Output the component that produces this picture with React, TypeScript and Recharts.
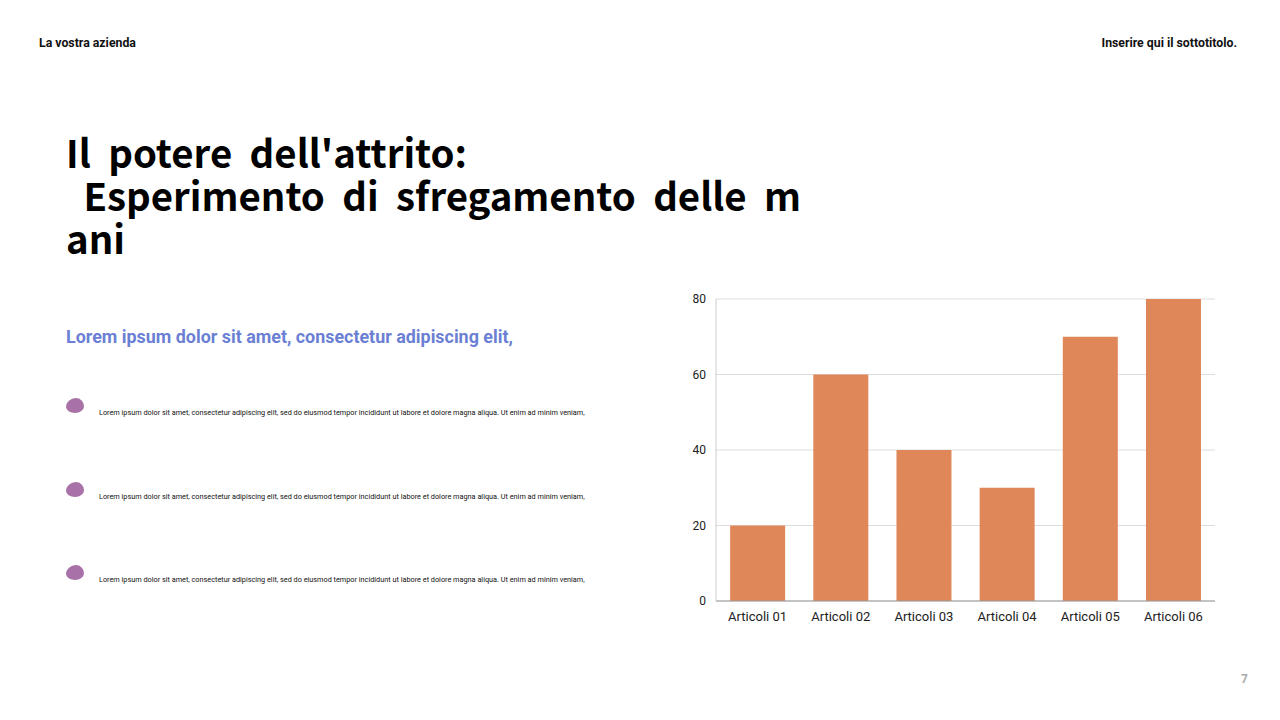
import React from "react";
import { BarChart, Bar, XAxis, YAxis, CartesianGrid } from "recharts";

const categories = ["Articoli 01", "Articoli 02", "Articoli 03", "Articoli 04", "Articoli 05", "Articoli 06"];
const values = [20, 60, 40, 30, 70, 80];
const yTicks = [0, 20, 40, 60, 80];

const titleLines = ["Il  potere  dell'attrito:", "  Esperimento  di  sfregamento  delle  m", "ani"];
const bulletText =
  "Lorem ipsum dolor sit amet, consectetur adipiscing elit, sed do eiusmod tempor incididunt ut labore et dolore magna aliqua. Ut enim ad minim veniam,";
const bulletTops = [398, 482, 565];

const data = categories.map((name, i) => ({ name, value: values[i] }));

function Blob({ top }: { top: number }) {
  return (
    <div
      style={{
        position: "absolute",
        left: 66,
        top,
        width: 18,
        height: 15,
        background: "#A872A8",
        borderRadius: "55% 45% 50% 50% / 60% 55% 45% 40%",
      }}
    />
  );
}

export default function App() {
  return (
    <div
      style={{
        position: "absolute",
        left: 0,
        top: 0,
        width: 1280,
        height: 720,
        background: "#fff",
        fontFamily: "Roboto, sans-serif",
        overflow: "hidden",
      }}
    >
      <div style={{ position: "absolute", left: 39, top: 36, fontSize: 12.3, fontWeight: 700, color: "#111" }}>
        La vostra azienda
      </div>
      <div style={{ position: "absolute", right: 43, top: 36, fontSize: 12.3, fontWeight: 700, color: "#111" }}>
        Inserire qui il sottotitolo.
      </div>

      <div
        style={{
          position: "absolute",
          left: 66,
          top: 130,
          fontFamily: "'Noto Sans CJK JP', sans-serif",
          fontWeight: 700,
          fontSize: 38.4,
          lineHeight: "43px",
          color: "#000",
          whiteSpace: "pre",
        }}
      >
        {titleLines.join("\n")}
      </div>

      <div
        style={{
          position: "absolute",
          left: 66,
          top: 326,
          fontSize: 17.9,
          fontWeight: 700,
          color: "#6B7FD4",
        }}
      >
        Lorem ipsum dolor sit amet, consectetur adipiscing elit,
      </div>

      {bulletTops.map((t) => (
        <React.Fragment key={t}>
          <Blob top={t} />
          <div style={{ position: "absolute", left: 99, top: t + 10, fontSize: 7.3, color: "#111", whiteSpace: "nowrap" }}>
            {bulletText}
          </div>
        </React.Fragment>
      ))}

      <div style={{ position: "absolute", left: 680, top: 289 }}>
        <BarChart
          width={540}
          height={342}
          data={data}
          margin={{ top: 10, right: 5, bottom: 0, left: 0 }}
          barCategoryGap="17%"
        >
          <CartesianGrid vertical={false} stroke="#dddddd" />
          <XAxis
            dataKey="name"
            height={30}
            tickLine={false}
            axisLine={{ stroke: "#999" }}
            tick={{ fontSize: 13, fill: "#222", fontFamily: "Roboto", dy: 3 }}
          />
          <YAxis
            width={36}
            domain={[0, 80]}
            ticks={yTicks}
            tickLine={false}
            axisLine={{ stroke: "#ccc" }}
            tick={{ fontSize: 12, fill: "#222", fontFamily: "Roboto", dx: -2 }}
          />
          <Bar dataKey="value" fill="#E0875A" isAnimationActive={false} />
        </BarChart>
      </div>

      <div style={{ position: "absolute", left: 1241, top: 672, fontSize: 12, fontWeight: 700, color: "#aaa" }}>7</div>
    </div>
  );
}
